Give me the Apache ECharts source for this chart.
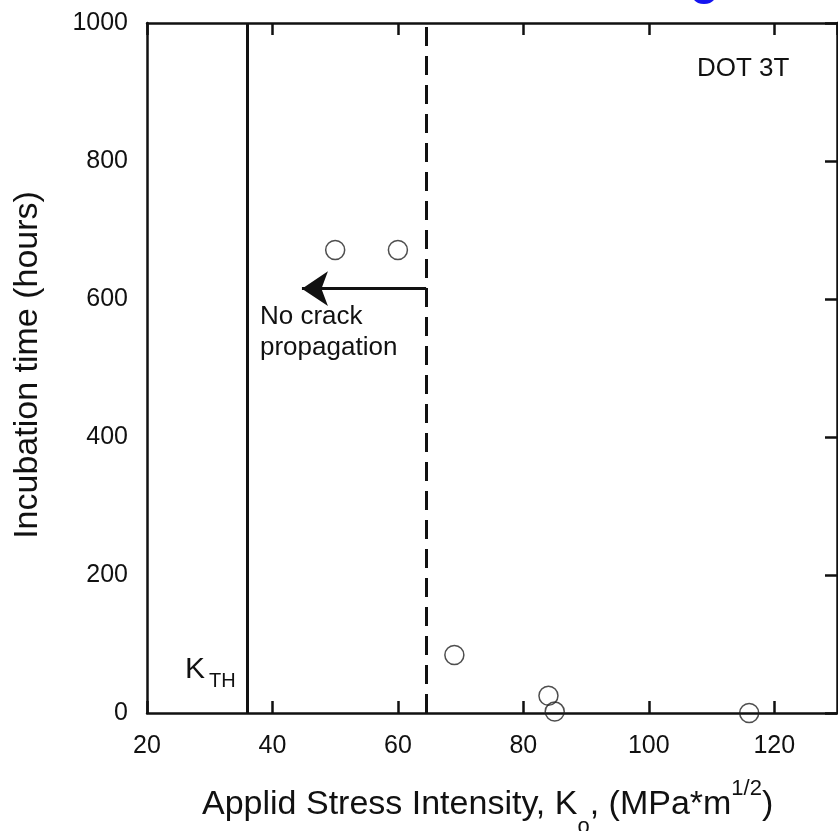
<!DOCTYPE html>
<html>
<head>
    <meta charset="UTF-8" />
    <title>Incubation time vs applied stress intensity</title>
    <script src="https://cdn.jsdelivr.net/npm/echarts@6/dist/echarts.min.js"></script>
    <style>
        html, body { margin: 0; padding: 0; background: #fff; }
        #main { width: 838px; height: 831px; }
    </style>
</head>
<body>
<div id="main"></div>
<script type="text/javascript">
    // data
    var kValues = [50, 60, 69, 84, 85, 116];      // applied stress intensity
    var hours = [671, 671, 84, 25, 2, 0];          // incubation time
    var kThreshold = 36;                           // solid line K_TH
    var kNoCrack = 64.5;                           // dashed line
    var arrowFrom = [64.5, 615];
    var arrowTo = [44.7, 615];
    var xTicks = [20, 130, 20];                    // min, max, interval
    var yTicks = [0, 1000, 200];

    var FONT = '"Liberation Sans", Arial, sans-serif';
    var INK = '#111';

    var points = [];
    for (var i = 0; i < kValues.length; i++) {
        points.push([kValues[i], hours[i]]);
    }

    // measure text widths for the x title pieces
    var ctx = document.createElement('canvas').getContext('2d');
    function textWidth(s, size) {
        ctx.font = size + 'px ' + FONT;
        return ctx.measureText(s).width;
    }

    var chart = echarts.init(document.getElementById('main'));

    var axisLine = { show: true, onZero: false, lineStyle: { color: INK, width: 2.5 } };
    var innerTick = { show: true, inside: true, length: 12, lineStyle: { color: INK, width: 2.5 } };

    var option = {
        backgroundColor: '#fff',
        animation: false,
        grid: { left: 147, right: 1, top: 23, bottom: 118 },
        xAxis: [
            {
                type: 'value', position: 'bottom',
                min: xTicks[0], max: xTicks[1], interval: xTicks[2],
                axisLine: axisLine, axisTick: innerTick,
                axisLabel: { color: INK, fontSize: 25, fontFamily: FONT, margin: 21, showMaxLabel: false },
                splitLine: { show: false }
            },
            {
                type: 'value', position: 'top',
                min: xTicks[0], max: xTicks[1], interval: xTicks[2],
                axisLine: axisLine, axisTick: innerTick,
                axisLabel: { show: false },
                splitLine: { show: false }
            }
        ],
        yAxis: [
            {
                type: 'value', position: 'left',
                min: yTicks[0], max: yTicks[1], interval: yTicks[2],
                axisLine: axisLine, axisTick: { show: false },
                axisLabel: {
                    color: INK, fontSize: 25, fontFamily: FONT, margin: 19,
                    formatter: function (v) { return String(v); }
                },
                splitLine: { show: false }
            },
            {
                type: 'value', position: 'right',
                min: yTicks[0], max: yTicks[1], interval: yTicks[2],
                axisLine: axisLine, axisTick: innerTick,
                axisLabel: { show: false },
                splitLine: { show: false }
            }
        ],
        series: [
            {
                type: 'scatter',
                data: points,
                symbol: 'circle',
                symbolSize: 19,
                itemStyle: { color: 'rgba(0,0,0,0)', borderColor: '#222', borderWidth: 1.5 },
                z: 5,
                markLine: {
                    silent: true,
                    symbol: 'none',
                    label: { show: false },
                    lineStyle: { color: INK, width: 3, type: 'solid' },
                    data: [
                        { xAxis: kThreshold, lineStyle: { color: INK, width: 3, type: 'solid' } },
                        { xAxis: kNoCrack, lineStyle: { color: INK, width: 3, type: [19, 10] } },
                        [
                            { coord: arrowFrom, symbol: 'none', lineStyle: { color: INK, width: 3, type: 'solid' } },
                            { coord: arrowTo, symbol: 'arrow', symbolSize: 26 }
                        ]
                    ]
                }
            }
        ]
    };
    chart.setOption(option);

    // x title with subscript and superscript
    var t1 = 'Applid Stress Intensity, K';
    var t2 = ', (MPa*m';
    var x0 = 202;
    var x1 = x0 + textWidth(t1, 34);
    var x2 = x1 + textWidth('o', 22);
    var x3 = x2 + textWidth(t2, 34);
    var x4 = x3 + textWidth('1/2', 22);

    function txt(s, x, y, size) {
        return {
            type: 'text', x: x, y: y, z: 100,
            style: { text: s, fill: INK, fontSize: size, fontFamily: FONT, align: 'left', verticalAlign: 'middle' }
        };
    }

    chart.setOption({
        graphic: [
            txt(t1, x0, 805, 34),
            txt('o', x1, 827, 22),
            txt(t2, x2, 805, 34),
            txt('1/2', x3, 789, 22),
            txt(')', x4, 805, 34),
            {
                type: 'text', x: 28, y: 365, rotation: Math.PI / 2, z: 100,
                style: { text: 'Incubation time (hours)', fill: INK, fontSize: 34, fontFamily: FONT, align: 'center', verticalAlign: 'middle' }
            },
            txt('DOT 3T', 697, 69, 26),
            {
                type: 'text', x: 260, y: 332, z: 100,
                style: { text: 'No crack\npropagation', fill: INK, fontSize: 26, lineHeight: 31, fontFamily: FONT, align: 'left', verticalAlign: 'middle' }
            },
            txt('K', 185, 670, 30),
            txt('TH', 209, 681, 20),
            // clipped blue fragment at the top edge
            { type: 'ellipse', shape: { cx: 704, cy: -3, rx: 11, ry: 7 }, style: { fill: '#1414f0' }, z: 100 }
        ]
    });
</script>
</body>
</html>
